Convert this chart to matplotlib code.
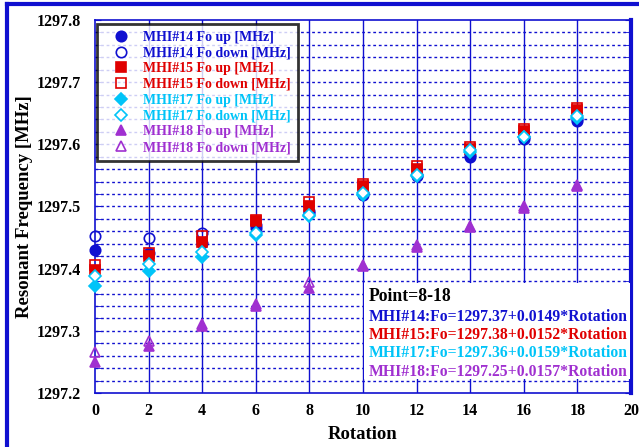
import numpy as np
import matplotlib.pyplot as plt
from matplotlib.lines import Line2D
from matplotlib.patches import Rectangle

# Dados
rotation = [0, 2, 4, 6, 8, 10, 12, 14, 16, 18]

mhi14_up = [1297.430, 1297.425, 1297.441, 1297.465, 1297.489, 1297.519, 1297.549, 1297.580, 1297.608, 1297.638]
mhi14_down = [1297.453, 1297.450, 1297.457, 1297.470, 1297.492, 1297.521, 1297.551, 1297.583, 1297.611, 1297.641]
mhi15_up = [1297.398, 1297.420, 1297.443, 1297.476, 1297.501, 1297.533, 1297.560, 1297.592, 1297.621, 1297.655]
mhi15_down = [1297.406, 1297.425, 1297.452, 1297.478, 1297.508, 1297.536, 1297.565, 1297.596, 1297.624, 1297.658]
mhi17_up = [1297.372, 1297.397, 1297.418, 1297.454, 1297.484, 1297.518, 1297.549, 1297.588, 1297.612, 1297.643]
mhi17_down = [1297.388, 1297.407, 1297.426, 1297.457, 1297.486, 1297.521, 1297.551, 1297.591, 1297.611, 1297.645]
mhi18_up = [1297.250, 1297.276, 1297.308, 1297.340, 1297.369, 1297.404, 1297.435, 1297.467, 1297.497, 1297.535]
mhi18_down = [1297.266, 1297.283, 1297.311, 1297.343, 1297.379, 1297.406, 1297.438, 1297.469, 1297.500, 1297.533]

fit_lines = [
    "MHI#14:Fo=1297.37+0.0149*Rotation",
    "MHI#15:Fo=1297.38+0.0152*Rotation",
    "MHI#17:Fo=1297.36+0.0159*Rotation",
    "MHI#18:Fo=1297.25+0.0157*Rotation",
]

BLUE = "#1010d0"
RED = "#e00000"
CYAN = "#00c4f8"
PURPLE = "#a030d0"

plt.rcParams["font.family"] = ["Liberation Serif", "DejaVu Serif"]
plt.rcParams["font.weight"] = "bold"

fig = plt.figure(figsize=(6.39, 4.47), dpi=100)
ax = fig.add_axes([0.1487, 0.1208, 0.8388, 0.8345])

series = [
    (mhi14_up, "MHI#14 Fo up [MHz]", "o", BLUE, BLUE, 7.5),
    (mhi14_down, "MHI#14 Fo down [MHz]", "o", BLUE, "none", 7.5),
    (mhi15_up, "MHI#15 Fo up [MHz]", "s", RED, RED, 7.5),
    (mhi15_down, "MHI#15 Fo down [MHz]", "s", RED, "none", 7.5),
    (mhi17_up, "MHI#17 Fo up [MHz]", "D", CYAN, CYAN, 6),
    (mhi17_down, "MHI#17 Fo down [MHz]", "D", CYAN, "white", 6),
    (mhi18_up, "MHI#18 Fo up [MHz]", "^", PURPLE, PURPLE, 7.5),
    (mhi18_down, "MHI#18 Fo down [MHz]", "^", PURPLE, "none", 7.5),
]

for values, label, marker, color, face, ms in series:
    ax.plot(rotation, values, linestyle="none", marker=marker, color=color,
            markerfacecolor=face, markeredgecolor=color, markeredgewidth=1.2,
            markersize=ms, label=label, zorder=5, clip_on=False)

ax.set_xlim(0, 20)
ax.set_ylim(1297.2, 1297.8)
ax.set_xticks(np.arange(0, 21, 2))
ax.set_yticks(np.arange(1297.2, 1297.81, 0.1))
ax.set_yticks(np.arange(1297.2, 1297.81, 0.02), minor=True)
ax.set_yticklabels([f"{v:.1f}" for v in np.arange(1297.2, 1297.81, 0.1)])

# grade: verticais sólidas, horizontais pontilhadas
for xv in np.arange(2, 20, 2):
    ax.axvline(xv, color=BLUE, linewidth=1.0, zorder=1)
for yv in np.arange(1297.22, 1297.79, 0.02):
    ax.axhline(yv, color=BLUE, linewidth=1.0, linestyle=(0, (2, 2)), zorder=1)

ax.tick_params(axis="both", which="both", direction="in", colors=BLUE,
               labelcolor="black", labelsize=11.5)
ax.tick_params(axis="y", which="both", right=True, length=4)
ax.tick_params(axis="x", length=0, pad=7)
ax.tick_params(axis="y", pad=10)
for lbl in ax.get_xticklabels() + ax.get_yticklabels():
    lbl.set_fontweight("bold")

for side in ["left", "bottom", "top"]:
    ax.spines[side].set_color(BLUE)
    ax.spines[side].set_linewidth(1.2)
ax.spines["right"].set_color(BLUE)
ax.spines["right"].set_linewidth(3)

ax.set_xlabel("Rotation", fontsize=13.5, fontweight="bold", labelpad=5)
ax.set_ylabel("Resonant Frequency [MHz]", fontsize=13.5, fontweight="bold", labelpad=3)

leg = ax.legend(loc="upper left", bbox_to_anchor=(0.004, 0.99), borderaxespad=0,
                frameon=True, fancybox=False, handletextpad=0.4,
                labelspacing=0.2, borderpad=0.5, handlelength=2.4,
                prop={"weight": "bold", "size": 10})
leg.get_frame().set_edgecolor("black")
leg.get_frame().set_linewidth(2)
leg.set_zorder(10)
for text, (_, _, _, color, _, _) in zip(leg.get_texts(), series):
    text.set_color(color)

# caixa com as equações de ajuste
ax.add_patch(Rectangle((10.05, 1297.223), 9.9, 0.154, facecolor="white",
                       edgecolor="none", zorder=3))
ax.text(10.2, 1297.356, "Point=8-18", fontsize=12.7, fontweight="bold",
        color="black", va="center", ha="left", zorder=6)
for i, (line, color) in enumerate(zip(fit_lines, [BLUE, RED, CYAN, PURPLE])):
    ax.text(10.2, 1297.323 - i * 0.0295, line, fontsize=11.3, fontweight="bold",
            color=color, va="center", ha="left", zorder=6)

# moldura externa
fig.add_artist(Line2D([7 / 639, 7 / 639], [0, 1 - 4 / 447], color=BLUE, linewidth=3))
fig.add_artist(Line2D([7 / 639, 1], [1 - 4 / 447, 1 - 4 / 447], color=BLUE, linewidth=3))

fig.savefig("out.png", dpi=100)
